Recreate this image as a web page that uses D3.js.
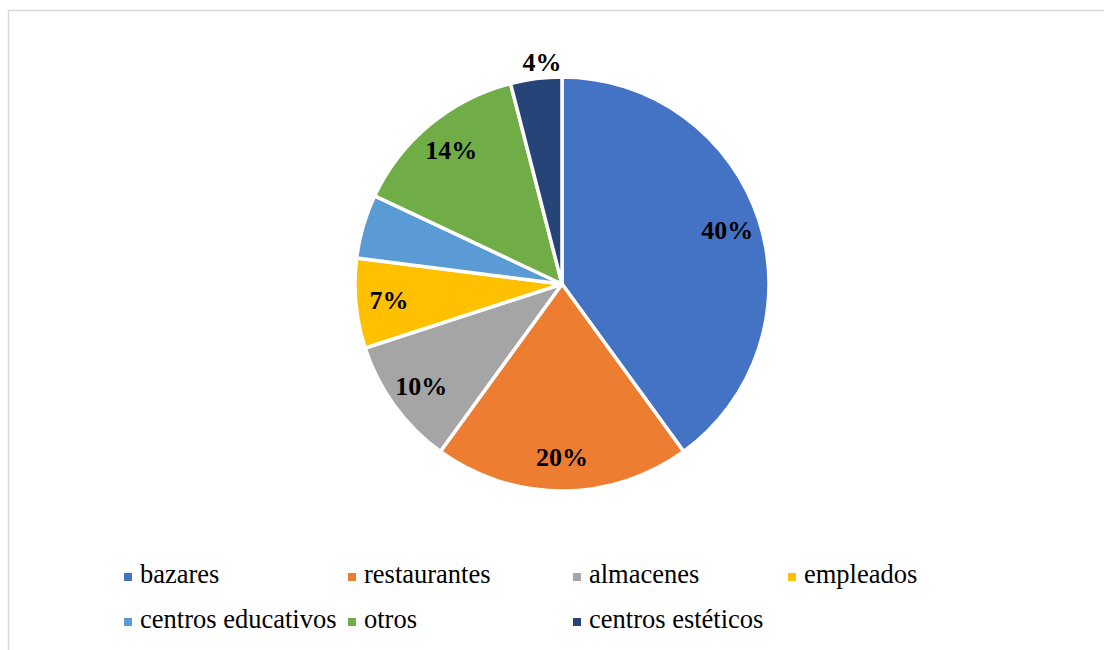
<!DOCTYPE html>
<html>
<head>
<meta charset="utf-8">
<script src="https://cdn.jsdelivr.net/npm/d3@7"></script>
<style>
  html, body { margin: 0; padding: 0; background: #fff; }
  svg { display: block; }
</style>
</head>
<body>
<svg id="chart" width="1104" height="650"></svg>
<script>
// Share of each category (percent)
const categories = ["bazares", "restaurantes", "almacenes", "empleados", "centros educativos", "otros", "centros estéticos"];
const values = [40, 20, 10, 7, 5, 14, 4];
const colors = ["#4472C4", "#ED7D31", "#A5A5A5", "#FFC000", "#5B9BD5", "#70AD47", "#264478"];
// Which slices carry a percentage label, and whether it sits outside the pie
const showLabel = [true, true, true, true, false, true, true];
const labelOutside = [false, false, false, false, false, false, true];

const svg = d3.select("#chart");
const W = 1104, H = 650;

// Frame around the chart area
svg.append("rect")
  .attr("x", 8.5).attr("y", 10.5)
  .attr("width", W + 20).attr("height", H + 20)
  .attr("fill", "none")
  .attr("stroke", "#d9d9d9")
  .attr("stroke-width", 1.5);

const cx = 562, cy = 284, r = 207;

const data = categories.map((c, i) => ({ name: c, value: values[i], color: colors[i], i }));

const pie = d3.pie().value(d => d.value).sort(null);
const arcs = pie(data);
const arc = d3.arc().innerRadius(0).outerRadius(r);
const labelArc = d3.arc().innerRadius(r * 0.84).outerRadius(r * 0.84);
const outerLabelArc = d3.arc().innerRadius(r * 1.08).outerRadius(r * 1.08);

const g = svg.append("g").attr("transform", `translate(${cx},${cy})`);

g.selectAll("path.slice")
  .data(arcs)
  .join("path")
  .attr("class", "slice")
  .attr("d", arc)
  .attr("fill", d => d.data.color)
  .attr("stroke", "#fff")
  .attr("stroke-width", 3.5)
  .attr("stroke-linejoin", "round");

g.selectAll("text.pct")
  .data(arcs.filter(d => showLabel[d.data.i]))
  .join("text")
  .attr("class", "pct")
  .attr("transform", d => {
    const p = (labelOutside[d.data.i] ? outerLabelArc : labelArc).centroid(d);
    return `translate(${p[0] + (labelOutside[d.data.i] ? 8 : 0)},${p[1]})`;
  })
  .attr("text-anchor", "middle")
  .attr("dominant-baseline", "central")
  .attr("font-family", "'Liberation Serif', 'Times New Roman', serif")
  .attr("font-weight", "bold")
  .attr("font-size", 26)
  .attr("fill", "#000")
  .text(d => d.data.value + "%");

// Legend: four columns, two rows
const colX = [124, 348, 573, 788];
const rowY = [577, 622];
const legend = svg.append("g");
const items = legend.selectAll("g.item")
  .data(data)
  .join("g")
  .attr("class", "item")
  .attr("transform", (d, i) => `translate(${colX[i % 4]},${rowY[Math.floor(i / 4)]})`);

items.append("rect")
  .attr("x", 0).attr("y", -4)
  .attr("width", 8).attr("height", 8)
  .attr("fill", d => d.color);

items.append("text")
  .attr("x", 16).attr("y", 6)
  .attr("font-family", "'Liberation Serif', 'Times New Roman', serif")
  .attr("font-size", 26.5)
  .attr("fill", "#000")
  .text(d => d.name);
</script>
</body>
</html>
